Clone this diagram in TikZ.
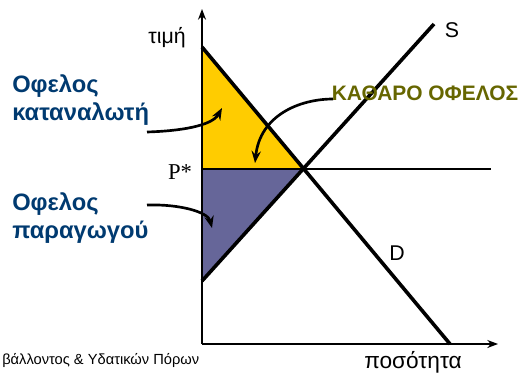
\documentclass[tikz,border=0pt]{standalone}
\usepackage{fontspec}
\setmainfont{Liberation Sans}
\newfontfamily\serifgr{Liberation Serif}
\usetikzlibrary{arrows.meta}
\definecolor{cyel}{HTML}{FFCC00}
\definecolor{cpur}{HTML}{666699}
\definecolor{cblue}{HTML}{003A70}
\definecolor{colive}{HTML}{666600}
\tikzset{
  curve/.style={black, line width=2pt, -{Stealth[length=9pt,width=7pt,inset=3pt]}},
  axis/.style={black, line width=1.1pt, -{Stealth[length=8pt,width=6pt,inset=2.5pt]}},
  mline/.style={black, line width=2.7pt},
  bluelab/.style={text=cblue, font=\fontsize{17.8}{21}\selectfont\bfseries, align=left, inner sep=0pt},
  plain/.style={font=\fontsize{16}{19}\selectfont, inner sep=0pt}
}
\begin{document}
\begin{tikzpicture}[x=0.75pt,y=-0.75pt]
\useasboundingbox (0,0) rectangle (520,374);
% key points
\coordinate (O) at (202,344);
\coordinate (Ytop) at (202,9);
\coordinate (Xend) at (498,344);
\coordinate (Dtop) at (202,47);
\coordinate (Dbot) at (450,344);
\coordinate (Sbot) at (202,281);
\coordinate (Stop) at (434,24);
\coordinate (E) at (304,169);
\coordinate (Pl) at (202,169);
\coordinate (Pr) at (491,169);
% areas
\fill[cyel] (Dtop) -- (Pl) -- (E) -- cycle;
\fill[cpur] (Pl) -- (E) -- (Sbot) -- cycle;
% axes
\draw[axis] (O) -- (Ytop);
\draw[axis] (O) -- (Xend);
\draw[black, line width=0.8pt] (Pl) -- (Pr);
% curves
\draw[mline] (Dtop) -- (Dbot);
\draw[mline] (Sbot) -- (Stop);
% labels
\node[plain] (price) at (167,38) {τιμή};
\node[plain, font=\fontsize{17}{19}\selectfont] (qty) at (413,362) {ποσότητα};
\node[plain] (S) at (452,30) {S};
\node[plain] (D) at (397,253) {D};
\node[inner sep=0pt, font=\fontsize{17}{20}\selectfont\serifgr] (pstar) at (180,172) {P*};
\node[bluelab, anchor=north west] (cons) at (12,74) {Οφελος\\καταναλωτή};
\node[bluelab, anchor=north west] (prod) at (12,192) {Οφελος\\παραγωγού};
\node[inner sep=0pt, text=colive, font=\fontsize{15.7}{18}\selectfont\bfseries] (net) at (425,93) {ΚΑΘΑΡΟ ΟΦΕΛΟΣ};
\node[inner sep=0pt, anchor=west, font=\fontsize{11}{12}\selectfont] (foot) at (2,360) {βάλλοντος \& Υδατικών Πόρων};
% arrow coordinates
\coordinate (a1s) at (147,132);
\coordinate (a1e) at (222,108);
\coordinate (a2s) at (333,99);
\coordinate (a2e) at (255,163);
\coordinate (a3s) at (147,205);
\coordinate (a3e) at (212,228);
\draw[curve] (a1s) .. controls (180,131) and (212,126) .. (a1e);
\draw[curve] (a2s) .. controls (300,99) and (260,115) .. (a2e);
\draw[curve] (a3s) .. controls (180,204) and (208,212) .. (a3e);
\end{tikzpicture}
\end{document}
